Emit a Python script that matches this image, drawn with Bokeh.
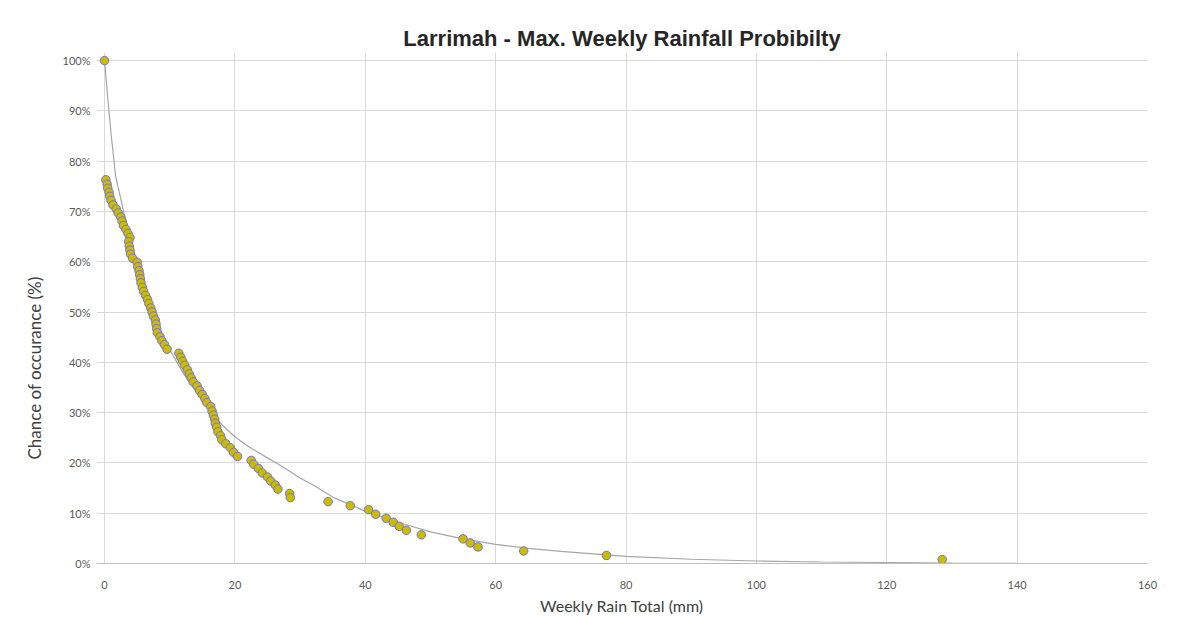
from bokeh.plotting import figure
from bokeh.models import FixedTicker, Range1d, ColumnDataSource, Title
from bokeh.embed import file_html
from bokeh.resources import INLINE

# Observed weekly rainfall maxima (mm) and chance of occurrence (%)
rain_mm = [0.0, 0.2, 0.4, 0.5, 0.7, 0.8, 1.0, 1.3, 1.8, 2.1, 2.5, 2.7, 2.9, 3.3, 3.6,
           3.9, 3.7, 3.8, 3.9, 4.0, 4.3, 5.0, 5.1, 5.3, 5.4, 5.5, 5.6, 5.8, 6.0, 6.3,
           6.6, 6.8, 7.1, 7.3, 7.5, 7.8, 7.9, 8.0, 8.1, 8.5, 8.8, 9.2, 9.6, 11.4, 11.7,
           12.0, 12.3, 12.7, 13.0, 13.3, 13.6, 14.2, 14.6, 15.0, 15.4, 15.7, 16.3, 16.5,
           16.7, 16.9, 17.0, 17.2, 17.4, 17.8, 18.0, 18.6, 19.3, 19.8, 20.4, 22.5, 22.9,
           23.6, 24.2, 25.0, 25.5, 26.2, 26.6, 28.4, 28.5, 34.3, 37.7, 40.5, 41.6, 43.2,
           44.3, 45.2, 46.3, 48.6, 55.0, 56.1, 57.3, 64.3, 77.0, 128.5]
chance_pct = [100.0, 76.3, 75.4, 74.6, 73.8, 73.0, 72.2, 71.3, 70.5, 69.7, 68.9, 68.1,
              67.2, 66.4, 65.6, 64.8, 64.0, 63.1, 62.3, 61.5, 60.7, 59.9, 59.0, 58.2,
              57.4, 56.6, 55.8, 54.9, 54.1, 53.3, 52.5, 51.7, 50.8, 50.0, 49.2, 48.4,
              47.6, 46.7, 45.9, 45.1, 44.3, 43.5, 42.6, 41.8, 41.0, 40.2, 39.4, 38.5,
              37.7, 36.9, 36.1, 35.3, 34.4, 33.6, 32.8, 32.0, 31.2, 30.3, 29.5, 28.7,
              27.9, 27.1, 26.2, 25.4, 24.6, 23.8, 23.0, 22.1, 21.3, 20.5, 19.7, 18.9,
              18.0, 17.2, 16.4, 15.6, 14.8, 13.9, 13.1, 12.3, 11.5, 10.7, 9.8, 9.0,
              8.2, 7.4, 6.6, 5.7, 4.9, 4.1, 3.3, 2.5, 1.6, 0.8]

# Fitted probability curve
fit_mm = [0, 0.5, 1, 1.7, 2.5, 3, 4, 6, 8, 10, 12, 14, 16, 18, 20, 22, 25, 27, 30, 32, 35,
          40, 45, 50, 55, 60, 65, 70, 80, 90, 100, 110, 120, 130, 140]
fit_pct = [100, 92.5, 85.5, 77, 72.5, 69.5, 64, 55.5, 48, 42.5, 38, 34.2, 30.8, 27.6, 25.2,
           23.3, 21.0, 19.5, 17.0, 15.6, 13.2, 10.4, 8.2, 6.3, 4.9, 3.8, 3.0, 2.4, 1.4,
           0.85, 0.5, 0.3, 0.2, 0.1, 0.05]

x_ticks = [0, 20, 40, 60, 80, 100, 120, 140, 160]
y_ticks = [0, 10, 20, 30, 40, 50, 60, 70, 80, 90, 100]
y_tick_labels = ["0%", "10%", "20%", "30%", "40%", "50%", "60%", "70%", "80%", "90%", "100%"]

p = figure(width=1185, height=617, output_backend="svg", toolbar_location=None,
           x_range=Range1d(-1.23, 160), y_range=Range1d(0, 101.6),
           min_border_left=96, min_border_right=38, min_border_top=52, min_border_bottom=53)

p.title.text = "Larrimah - Max. Weekly Rainfall Probibilty"
p.title.align = "center"
p.title.text_font = "Liberation Sans"
p.title.text_font_size = "22px"
p.title.text_font_style = "bold"
p.title.text_color = "#262626"
p.title.standoff = 3

p.outline_line_color = None
p.background_fill_color = "white"
p.border_fill_color = "white"

for g in (p.xgrid[0], p.ygrid[0]):
    g.grid_line_color = "#d9d9d9"
    g.grid_line_width = 1
p.xgrid[0].ticker = FixedTicker(ticks=x_ticks)
p.ygrid[0].ticker = FixedTicker(ticks=y_ticks)

xa = p.xaxis[0]
xa.ticker = FixedTicker(ticks=x_ticks)
xa.axis_label = "Weekly Rain Total (mm)"
xa.axis_line_color = "#bfbfbf"
xa.major_tick_line_color = None
xa.minor_tick_line_color = None
xa.major_label_standoff = 11
xa.axis_label_standoff = 4

ya = p.yaxis[0]
ya.ticker = FixedTicker(ticks=y_ticks)
ya.major_label_overrides = {t: l for t, l in zip(y_ticks, y_tick_labels)}
ya.axis_line_color = None
ya.major_tick_line_color = None
ya.minor_tick_line_color = None
ya.major_label_standoff = 0

for ax in (xa, ya):
    ax.major_label_text_font = "Lato"
    ax.major_label_text_font_size = "11px"
    ax.major_label_text_color = "#595959"
    ax.axis_label_text_font = "Lato"
    ax.axis_label_text_font_size = "16px"
    ax.axis_label_text_font_style = "normal"
    ax.axis_label_text_color = "#404040"

ylab = Title(text="Chance of occurance (%)", align="left", offset=104, standoff=30,
             text_font="Lato", text_font_size="17px", text_font_style="normal",
             text_color="#404040")
p.add_layout(ylab, "left")

p.line(fit_mm, fit_pct, line_color="#a6a6a6", line_width=1.2)

src = ColumnDataSource(dict(x=rain_mm, y=chance_pct))
p.scatter("x", "y", source=src, size=8.5, fill_color="#cdbb00",
          line_color="#6f74d8", line_width=1)

open("out.html", "w").write(file_html(p, INLINE))
